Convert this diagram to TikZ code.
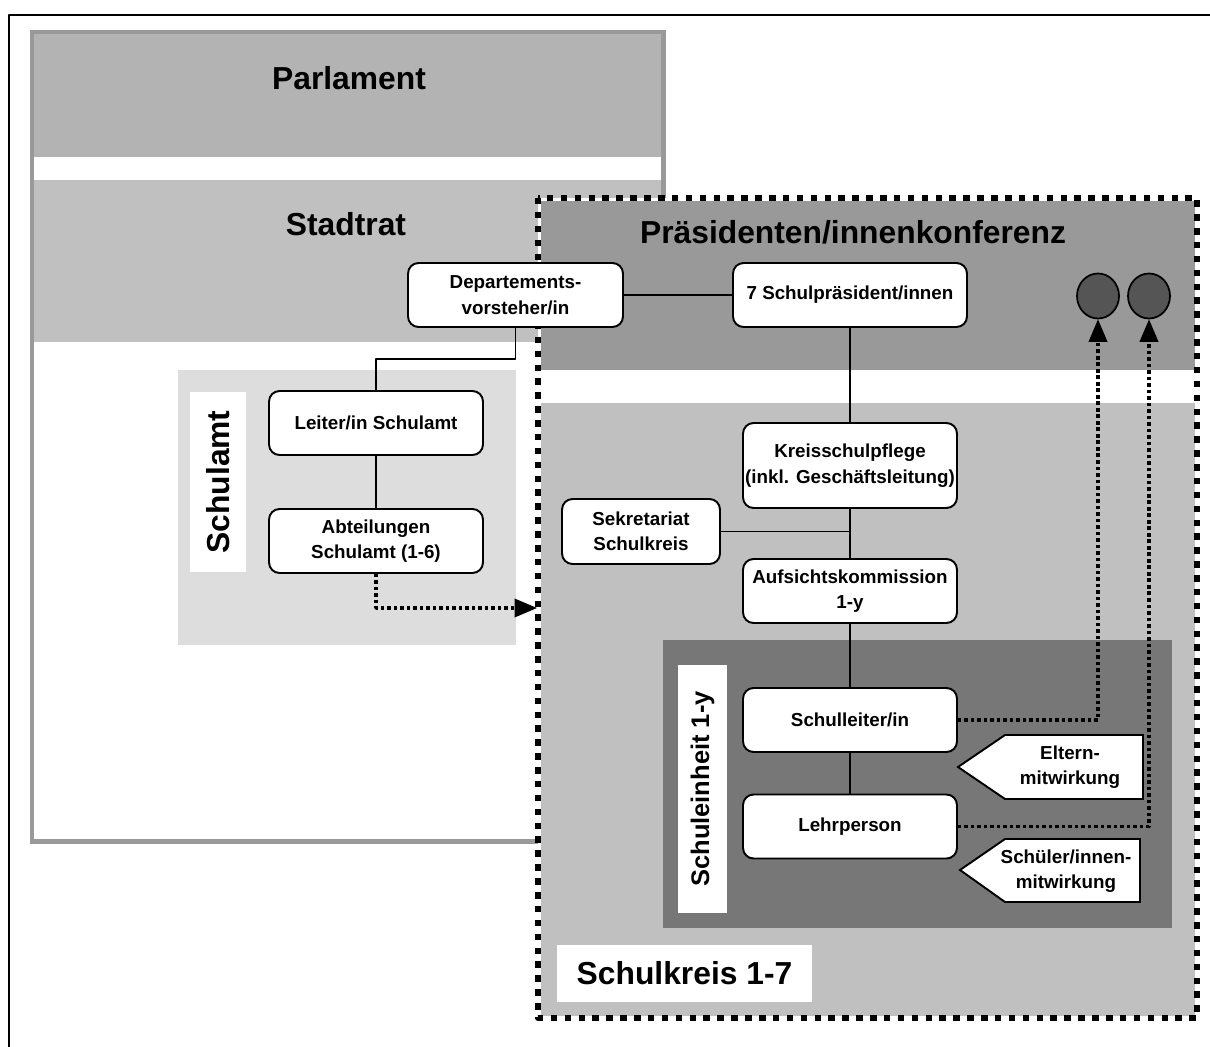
\documentclass[tikz,border=0pt]{standalone}
\usepackage{fontspec}
\setmainfont{Liberation Sans}
\usetikzlibrary{arrows}
\usetikzlibrary{shapes.geometric}
\definecolor{parlgray}{RGB}{179,179,179}
\definecolor{stadtgray}{RGB}{192,192,192}
\definecolor{framegray}{RGB}{153,153,153}
\definecolor{amtgray}{RGB}{221,221,221}
\definecolor{konfgray}{RGB}{153,153,153}
\definecolor{einheitgray}{RGB}{119,119,119}
\definecolor{dotgray}{RGB}{85,85,85}

\begin{document}
\begin{tikzpicture}[line cap=round,line join=round,>=triangle 45,x=0.02cm,y=-0.02cm,
  box/.style={draw,line width=1.1pt,rounded corners=6pt,fill=white,align=center,inner sep=1pt,
    minimum width=4.28cm,minimum height=1.28cm,font=\bfseries\fontsize{10.7}{14.5}\selectfont},
  title/.style={font=\bfseries\fontsize{18.1}{22}\selectfont},
  vlabel/.style={fill=white,rotate=90,inner sep=0pt},
  link/.style={line width=1pt},
  dotarrow/.style={->,line width=2pt,line cap=butt,dash pattern=on 2pt off 1.7pt},
  sign/.style={draw,line width=1.1pt,fill=white,line join=miter},
  signtext/.style={align=center,font=\bfseries\fontsize{10.7}{14.5}\selectfont},
  dot/.style={ellipse,draw,line width=1pt,fill=dotgray,minimum width=0.84cm,minimum height=0.9cm}]
\useasboundingbox (0,0) rectangle (1210,1047);
\draw [line width=1.2pt] (1210,15) -- (9,15) -- (9,1047);
% Parlament und Stadtrat
\fill [white] (32,32) rectangle (663,841);
\fill [parlgray] (34,34) rectangle (661,157);
\fill [stadtgray] (34,180) rectangle (661,342);
\draw [framegray,line width=2.8pt,line cap=butt,line join=miter] (32,32) rectangle (663.5,841.5);
\node [title] (parl) at (349,78) {Parlament};
\node [title] (stadt) at (346,224) {Stadtrat};
\fill [amtgray] (178,370) rectangle (516,645);
\node [vlabel,minimum width=3.6cm,minimum height=1.12cm,title] (amtlbl) at (218,482) {Schulamt};
% Schulkreis
\fill [white] (538,198) rectangle (1197,1018);
\fill [konfgray] (541,201) rectangle (1195,370);
\fill [stadtgray] (541,403) rectangle (1195,1016);
\fill [einheitgray] (663,640) rectangle (1172,928);
\draw [line width=3.4pt,line cap=butt,dash pattern=on 3.7pt off 4.2pt] (538,198) rectangle (1197,1018);
\node [title] (konf) at (853,232) {Präsidenten/innenkonferenz};
\node [vlabel,minimum width=4.96cm,minimum height=0.98cm,font=\bfseries\fontsize{14.5}{16}\selectfont] (einlbl) at (702.5,789) {Schuleinheit 1-y};
\node [fill=white,minimum width=5.1cm,minimum height=1.14cm,title] (kreislbl) at (684.5,973.5) {Schulkreis 1-7};

\node [box,minimum width=4.3cm] (dep) at (515.5,295) {Departements-\\vorsteher/in};
\node [box,minimum width=4.68cm] (sp) at (850,295) {7 Schulpräsident/innen};
\node [box] (leiter) at (376,423) {Leiter/in Schulamt};
\node [box] (abt) at (376,541) {Abteilungen\\Schulamt (1-6)};
\node [box,minimum height=1.7cm] (kreis) at (850,465.5) {Kreisschulpflege\\(inkl. Geschäftsleitung)};
\node [box,minimum width=3.16cm,minimum height=1.3cm] (sek) at (641,531.5) {Sekretariat\\Schulkreis};
\node [box] (aufs) at (850,591) {Aufsichtskommission\\1-y};
\node [box] (sl) at (850,720) {Schulleiter/in};
\node [box] (lp) at (850,826.5) {Lehrperson};
\node [dot] (c1) at (1098,296) {};
\node [dot] (c2) at (1149,296) {};

\draw [sign] (958,767) -- (1005,735) -- (1143,735) -- (1143,799) -- (1005,799) -- cycle;
\node [signtext] (eltern) at (1070,767) {Eltern-\\mitwirkung};
\draw [sign] (960,870) -- (1005,839) -- (1140,839) -- (1140,902) -- (1005,902) -- cycle;
\node [signtext] (schueler) at (1066,871) {Schüler/innen-\\mitwirkung};

\draw [link] (dep) -- (sp);
\draw [link] (dep.south) -- ++(0,31) -| (leiter.north);
\draw [link] (leiter) -- (abt);
\draw [link] (sp) -- (kreis);
\draw [link] (kreis) -- (aufs);
\draw [link] (aufs) -- (sl);
\draw [link] (sl) -- (lp);
\draw [link] (sek.east) -- (sek.east -| kreis.south);
\coordinate (amtin) at (537,608);
\draw [dotarrow] (abt.south) |- (amtin);
\draw [dotarrow] (sl.east) -| (c1.south);
\draw [dotarrow] (lp.east) -| (c2.south);
\end{tikzpicture}
\end{document}
